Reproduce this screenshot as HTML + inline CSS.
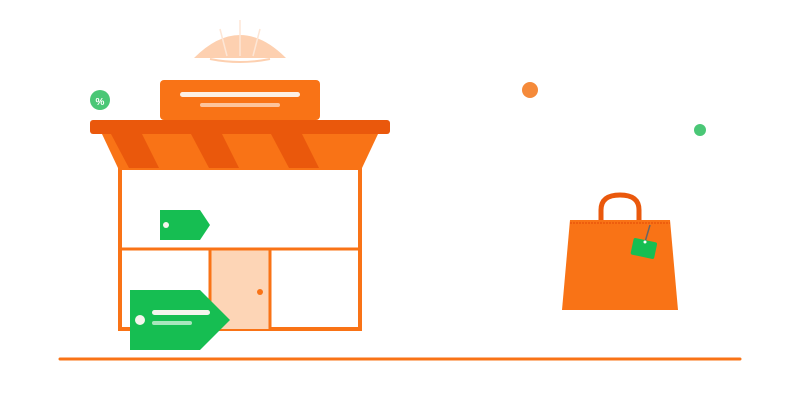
<!DOCTYPE html>
<html><head><style>html,body{margin:0;padding:0;background:#fff}svg{display:block}</style></head>
<body>
<svg width="800" height="400" viewBox="0 0 800 400" xmlns="http://www.w3.org/2000/svg">
<rect width="800" height="400" fill="#fff"/>
<!-- lamp -->
<path d="M194 58 Q240 12 286 58 Z" fill="#fdd0b0"/>
<path d="M210 59 Q240 65 270 59" stroke="#fdd0b0" stroke-width="2" fill="none"/>
<g stroke="#fde6d6" stroke-width="1.5">
<line x1="240" y1="20" x2="240" y2="56"/>
<line x1="220" y1="29" x2="227" y2="56"/>
<line x1="260" y1="29" x2="253" y2="56"/>
</g>
<!-- sign -->
<rect x="160" y="80" width="160" height="40" rx="4" fill="#f97316"/>
<rect x="180" y="92" width="120" height="5" rx="2.5" fill="#fdf0e4"/>
<rect x="200" y="103" width="80" height="4" rx="2" fill="#fdc49c"/>
<!-- percent badge -->
<circle cx="100" cy="100" r="10" fill="#4ac776"/>
<text x="100" y="105" text-anchor="middle" font-family="Liberation Sans, sans-serif" font-size="10" font-weight="bold" fill="#fff">%</text>
<!-- store box -->
<rect x="120" y="168" width="240" height="161" fill="#fff" stroke="#f97316" stroke-width="4"/>
<rect x="210" y="249" width="60" height="80" fill="#fdd5b6"/>
<line x1="120" y1="249" x2="360" y2="249" stroke="#f97316" stroke-width="3"/>
<line x1="210" y1="249" x2="210" y2="329" stroke="#f97316" stroke-width="3"/>
<line x1="270" y1="249" x2="270" y2="329" stroke="#f97316" stroke-width="3"/>
<circle cx="260" cy="292" r="3" fill="#f97316"/>
<!-- awning -->
<polygon points="102,134 378,134 362,168 118,168" fill="#f97316"/>
<polygon points="111,134 142,134 159,168 129,168" fill="#ea580c"/>
<polygon points="191,134 222,134 239,168 209,168" fill="#ea580c"/>
<polygon points="271,134 302,134 319,168 289,168" fill="#ea580c"/>
<rect x="90" y="120" width="300" height="14" rx="3" fill="#ea580c"/>
<!-- small tag -->
<polygon points="160,210 200,210 210,225 200,240 160,240" fill="#16be52"/>
<circle cx="166" cy="225" r="3" fill="#f5f5ee"/>
<!-- big tag -->
<polygon points="130,290 200,290 230,320 200,350 130,350" fill="#16be52"/>
<circle cx="140" cy="320" r="5" fill="#f5f5ee"/>
<rect x="152" y="310" width="58" height="5" rx="2.5" fill="#f5f5ee"/>
<rect x="152" y="321" width="40" height="4" rx="2" fill="#a8e6bd"/>
<!-- ground -->
<line x1="60" y1="359" x2="740" y2="359" stroke="#f97316" stroke-width="3" stroke-linecap="round"/>
<!-- dots -->
<circle cx="530" cy="90" r="8" fill="#f58a3a"/>
<circle cx="700" cy="130" r="6" fill="#4ac776"/>
<!-- bag -->
<path d="M601 221 V210 Q601 195 620 195 Q639 195 639 210 V221" stroke="#ea580c" stroke-width="5" fill="none"/>
<polygon points="570,220 670,220 678,310 562,310" fill="#f97316"/>
<line x1="570" y1="223" x2="670" y2="223" stroke="#ea580c" stroke-width="1.5" stroke-dasharray="2 1"/>
<line x1="650" y1="225" x2="645" y2="242" stroke="#666" stroke-width="1.5"/>
<rect x="632" y="240" width="24" height="17" rx="2" fill="#16be52" transform="rotate(12 644 248)"/>
<circle cx="645" cy="242" r="1.5" fill="#fff"/>
</svg>
</body></html>
